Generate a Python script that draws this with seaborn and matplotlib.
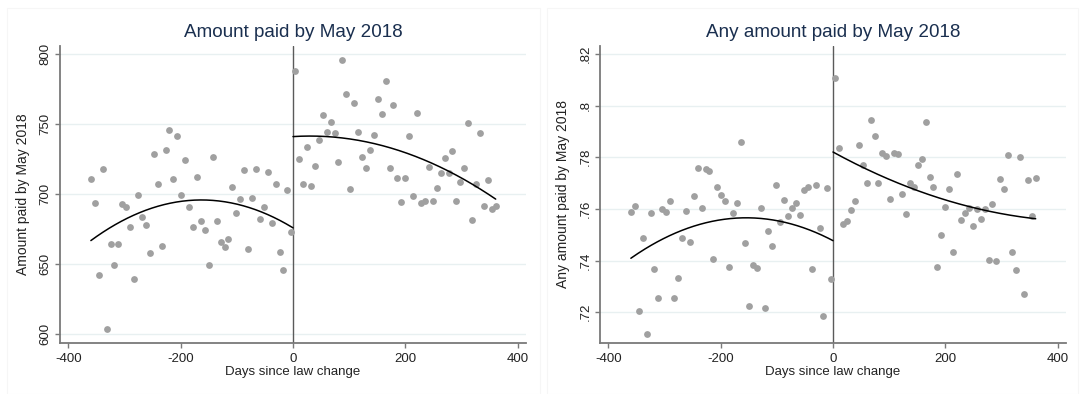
import numpy as np
import pandas as pd
import matplotlib
matplotlib.use("Agg")
import matplotlib.pyplot as plt
from matplotlib.patches import Rectangle
import seaborn as sns

# Weekly bins of days relative to the law change
days_pre = [-360, -353, -346, -339, -332, -325, -318, -311, -304, -297,
            -290, -283, -276, -269, -262, -255, -248, -241, -234, -227,
            -220, -213, -206, -199, -192, -185, -178, -171, -164, -157,
            -150, -143, -136, -129, -122, -115, -108, -101, -94, -87,
            -80, -73, -66, -59, -52, -45, -38, -31, -24, -17, -10, -3]
days_post = [4, 11, 18, 25, 32, 39, 46, 53, 60, 67,
             74, 81, 88, 95, 102, 109, 116, 123, 130, 137,
             144, 151, 158, 165, 172, 179, 186, 193, 200, 207,
             214, 221, 228, 235, 242, 249, 256, 263, 270, 277,
             284, 291, 298, 305, 312, 319, 326, 333, 340, 347, 354, 361]

# Bin means: amount paid by May 2018
amount_pre = [710.5, 693.3, 642.1, 718.1, 603.8, 664.5, 649.0, 664.5, 692.6, 690.5,
              676.2, 639.5, 699.3, 683.8, 677.9, 658.1, 728.3, 707.1, 663.1, 731.7,
              745.7, 710.5, 741.4, 699.0, 724.3, 690.5, 676.2, 712.1, 681.0, 674.3,
              649.3, 726.2, 681.0, 665.7, 662.4, 667.6, 704.8, 686.2, 696.7, 716.9,
              660.7, 697.1, 717.6, 681.9, 691.0, 715.5, 679.5, 707.1, 658.6, 645.5,
              702.9, 672.9]
amount_post = [788.1, 724.8, 706.9, 733.6, 705.5, 720.2, 738.3, 756.2, 744.0, 751.7,
               743.3, 723.1, 795.5, 771.4, 703.3, 764.8, 744.5, 726.7, 718.8, 731.4,
               742.1, 768.1, 756.9, 781.0, 718.3, 763.8, 711.4, 694.5, 711.2, 741.7,
               698.6, 758.1, 693.3, 695.0, 719.5, 695.2, 704.0, 715.2, 726.0, 715.2,
               730.7, 695.0, 708.3, 718.8, 751.0, 681.7, 707.1, 743.3, 691.4, 710.2,
               689.3, 691.7]

# Bin means: share with any amount paid by May 2018
any_pre = [0.7587, 0.7613, 0.7203, 0.7489, 0.7115, 0.7585, 0.7366, 0.7257, 0.7601, 0.7587,
           0.7632, 0.7255, 0.7332, 0.7489, 0.7591, 0.7471, 0.7649, 0.7760, 0.7603, 0.7756,
           0.7745, 0.7405, 0.7684, 0.7654, 0.7632, 0.7374, 0.7585, 0.7623, 0.7861, 0.7467,
           0.7223, 0.7383, 0.7373, 0.7605, 0.7215, 0.7516, 0.7458, 0.7693, 0.7551, 0.7636,
           0.7574, 0.7605, 0.7622, 0.7575, 0.7675, 0.7685, 0.7369, 0.7694, 0.7528, 0.7185,
           0.7681, 0.7329]
any_post = [0.8108, 0.7837, 0.7543, 0.7554, 0.7595, 0.7632, 0.7848, 0.7772, 0.7699, 0.7945,
            0.7881, 0.7701, 0.7815, 0.7805, 0.7640, 0.7818, 0.7814, 0.7657, 0.7581, 0.7699,
            0.7684, 0.7769, 0.7794, 0.7935, 0.7723, 0.7686, 0.7374, 0.7498, 0.7606, 0.7676,
            0.7434, 0.7734, 0.7557, 0.7586, 0.7605, 0.7533, 0.7600, 0.7561, 0.7599, 0.7404,
            0.7619, 0.7400, 0.7715, 0.7679, 0.7810, 0.7432, 0.7363, 0.7803, 0.7271, 0.7712,
            0.7573, 0.7721]

titles = ["Amount paid by May 2018", "Any amount paid by May 2018"]
ylabels = ["Amount paid by May 2018", "Any amount paid by May 2018"]
xlabel = "Days since law change"
xticks = [-400, -200, 0, 200, 400]
yticks_amount = [600, 650, 700, 750, 800]
ylabels_amount = ["600", "650", "700", "750", "800"]
yticks_any = [0.72, 0.74, 0.76, 0.78, 0.80, 0.82]
ylabels_any = [".72", ".74", ".76", ".78", ".8", ".82"]

sns.set_theme(style="white")
plt.rcParams["font.family"] = ["Liberation Sans", "DejaVu Sans"]

W, H = 1082, 394
fig = plt.figure(figsize=(W / 100, H / 100), dpi=100)
fig.patch.set_facecolor("white")

# Faint frames around each graph
for x0, x1 in [(7, 540), (547, 1078)]:
    fig.add_artist(Rectangle((x0 / W, 0), (x1 - x0) / W, 1 - 8 / H,
                             transform=fig.transFigure, fill=False,
                             edgecolor="#f6f6f6", linewidth=0.8))

ax_l = fig.add_axes([60 / W, 1 - 342.7 / H, 466 / W, 296.7 / H])
ax_r = fig.add_axes([600 / W, 1 - 342.7 / H, 466 / W, 296.7 / H])

panels = [
    (ax_l, amount_pre, amount_post, yticks_amount, ylabels_amount, (593.8, 805.7)),
    (ax_r, any_pre, any_post, yticks_any, ylabels_any, (0.7082, 0.8231)),
]

axis_grey = "#7a7a7a"
for i, (ax, pre, post, yt, ytl, ylim) in enumerate(panels):
    ax.set_facecolor("white")
    df = pd.DataFrame({"days": days_pre + days_post, "value": pre + post})
    sns.scatterplot(data=df, x="days", y="value", ax=ax, color="#a0a0a0",
                    s=24, linewidth=0, zorder=3)

    # Quadratic fit on each side of the cutoff
    fits = []
    for xs, ys, lo, hi in [(days_pre, pre, days_pre[0], 0),
                           (days_post, post, 0, days_post[-1])]:
        coef = np.polyfit(xs, ys, 2)
        grid = np.linspace(lo, hi, 200)
        fits.append(pd.DataFrame({"days": grid, "fit": np.polyval(coef, grid)}))
    for f in fits:
        sns.lineplot(data=f, x="days", y="fit", ax=ax, color="black",
                     linewidth=1.1, zorder=4)

    ax.axvline(0, color="#5a5a5a", linewidth=1.0, zorder=2)

    ax.set_xlim(-415, 415)
    ax.set_ylim(*ylim)
    ax.set_xticks(xticks)
    ax.set_xticklabels([str(t) for t in xticks])
    ax.set_yticks(yt)
    ax.set_yticklabels(ytl, rotation=90, va="center")
    ax.grid(axis="y", color="#e8f0f1", linewidth=1.0)
    ax.grid(axis="x", visible=False)
    ax.set_axisbelow(True)

    for side in ["top", "right"]:
        ax.spines[side].set_visible(False)
    for side in ["left", "bottom"]:
        ax.spines[side].set_color(axis_grey)
        ax.spines[side].set_linewidth(1.3)
    ax.tick_params(axis="both", direction="out", length=3.6, width=1.0,
                   color=axis_grey, labelsize=9.5, labelcolor="#222222",
                   left=True, bottom=True)
    ax.tick_params(axis="x", pad=3.5)
    ax.tick_params(axis="y", pad=2.5)

    ax.set_xlabel(xlabel, fontsize=9.5, color="#222222", labelpad=1)
    ax.set_ylabel(ylabels[i], fontsize=10, color="#222222")
    ax.yaxis.set_label_coords(-30 / 466, 0.5)
    ax.text(0.5, 1 + 13 / 296.7, titles[i], transform=ax.transAxes,
            ha="center", va="center", fontsize=13.6, color="#1a2f4f")
    if ax.get_legend():
        ax.get_legend().remove()

fig.savefig("out.png", dpi=100, facecolor="white")
